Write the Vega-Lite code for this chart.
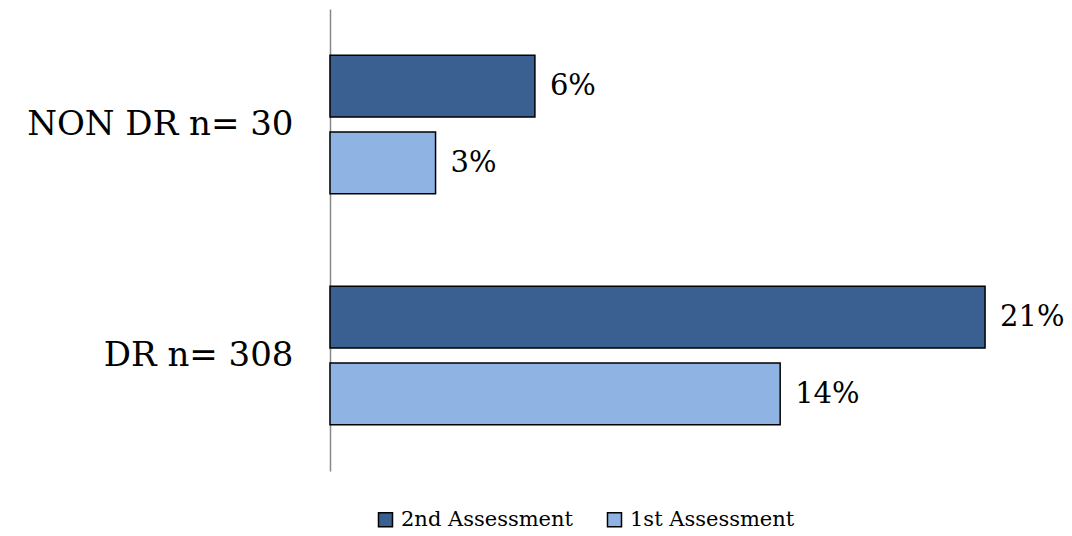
{
  "$schema": "https://vega.github.io/schema/vega-lite/v6.json",
  "width": 683,
  "height": 462,
  "autosize": {"type": "none"},
  "padding": {"left": 330, "top": 9, "right": 59, "bottom": 65},
  "background": "white",
  "config": {
    "view": {"stroke": null},
    "font": "DejaVu Serif"
  },
  "data": {
    "values": [
      {"group": "NON DR n= 30", "series": "2nd Assessment", "value": 0.066, "label": "6%"},
      {"group": "NON DR n= 30", "series": "1st Assessment", "value": 0.034, "label": "3%"},
      {"group": "DR n= 308", "series": "2nd Assessment", "value": 0.211, "label": "21%"},
      {"group": "DR n= 308", "series": "1st Assessment", "value": 0.145, "label": "14%"}
    ]
  },
  "encoding": {
    "y": {
      "field": "group",
      "type": "nominal",
      "sort": ["NON DR n= 30", "DR n= 308"],
      "scale": {"paddingInner": 0.4, "paddingOuter": 0.2},
      "axis": {
        "title": null,
        "ticks": false,
        "domainColor": "#888888",
        "domainWidth": 1.5,
        "labelFontSize": 34,
        "labelColor": "black",
        "labelFont": "DejaVu Serif",
        "labelPadding": 37,
        "labelLimit": 400
      }
    },
    "yOffset": {
      "field": "series",
      "type": "nominal",
      "sort": ["2nd Assessment", "1st Assessment"],
      "scale": {"paddingInner": 0.195, "paddingOuter": 0}
    },
    "x": {
      "field": "value",
      "type": "quantitative",
      "scale": {"domain": [0, 0.22]},
      "axis": null
    }
  },
  "layer": [
    {
      "mark": {"type": "bar", "stroke": "black", "strokeWidth": 1.5},
      "encoding": {
        "color": {
          "field": "series",
          "type": "nominal",
          "sort": ["2nd Assessment", "1st Assessment"],
          "scale": {"domain": ["2nd Assessment", "1st Assessment"], "range": ["#3A6091", "#8FB4E3"]},
          "legend": {
            "title": null,
            "orient": "none",
            "legendX": 45,
            "legendY": 500,
            "direction": "horizontal",
            "symbolType": "square",
            "symbolSize": 196,
            "symbolStrokeColor": "black",
            "symbolStrokeWidth": 1.5,
            "labelFontSize": 21,
            "labelFont": "DejaVu Serif",
            "labelColor": "black",
            "labelOffset": 5,
            "labelLimit": 400,
            "columnPadding": 30
          }
        }
      }
    },
    {
      "mark": {"type": "text", "align": "left", "baseline": "middle", "dx": 15, "fontSize": 29, "font": "DejaVu Serif", "color": "black"},
      "encoding": {
        "text": {"field": "label", "type": "nominal"}
      }
    }
  ]
}
